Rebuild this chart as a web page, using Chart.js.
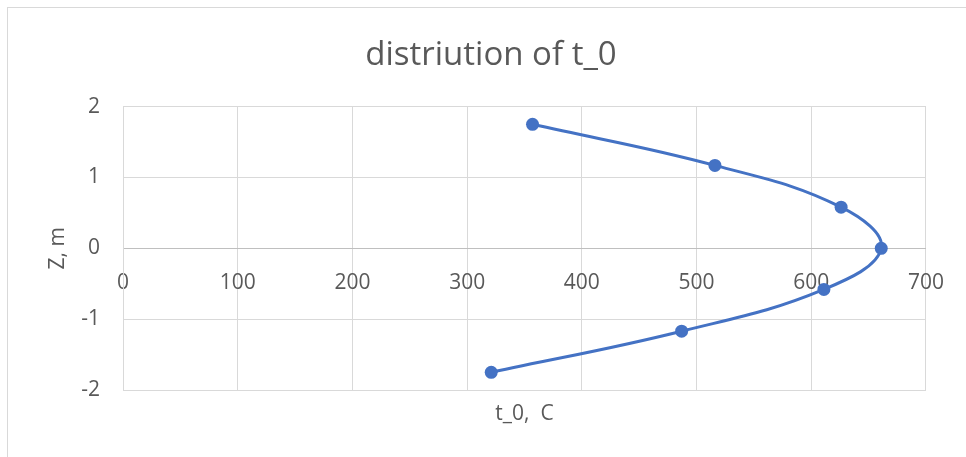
<!DOCTYPE html>
<html>
<head>
<meta charset="utf-8">
<script src="https://cdn.jsdelivr.net/npm/chart.js@4/dist/chart.umd.min.js"></script>
<style>
    html, body { margin: 0; padding: 0; background: #fff; overflow: hidden; }
    #frame {
        position: absolute; left: 7px; top: 7px;
        width: 959px; height: 450px;
        border-left: 1px solid #d9d9d9; border-top: 1px solid #d9d9d9;
    }
    #chart { display: block; }
</style>
</head>
<body>
<div id="frame"><canvas id="chart" width="958" height="449"></canvas></div>
<script>
// values (Excel scatter, smooth line)
const temps = [357, 516, 626, 661, 611, 487, 321];      // t_0, C
const depths = [1.75, 1.17, 0.58, 0, -0.58, -1.17, -1.75]; // Z, m
const xTicks = [0, 100, 200, 300, 400, 500, 600, 700];
const yTicks = [-2, -1, 0, 1, 2];

const TEXT = '#595959';
const GRID = '#d9d9d9';
const FONT = "'Open Sans', sans-serif";

const points = temps.map((t, i) => ({ x: t, y: depths[i] }));

new Chart(document.getElementById('chart'), {
    type: 'scatter',
    data: {
        datasets: [{
            data: points,
            showLine: true,
            borderColor: '#4472C4',
            backgroundColor: '#4472C4',
            borderWidth: 3,
            pointRadius: 6.5,
            pointBorderWidth: 0,
            tension: 0.4
        }]
    },
    options: {
        responsive: false,
        animation: false,
        layout: { padding: { left: 8, right: 0, top: 0, bottom: 0 } },
        plugins: {
            legend: { display: false },
            tooltip: { enabled: false },
            title: {
                display: true,
                text: 'distriution of t_0',
                color: TEXT,
                font: { family: FONT, size: 33, weight: 'normal' },
                padding: { top: 28, bottom: 31 }
            }
        },
        scales: {
            x: {
                type: 'linear',
                position: { y: 0 },
                min: xTicks[0],
                max: xTicks[xTicks.length - 1],
                afterBuildTicks: s => { s.ticks = xTicks.map(v => ({ value: v })); },
                grid: { color: GRID, drawTicks: false },
                border: { color: '#bfbfbf' },
                ticks: { color: TEXT, font: { family: FONT, size: 21 }, padding: 22, maxRotation: 0 }
            },
            x2: {
                type: 'linear',
                position: 'bottom',
                grid: { display: false },
                border: { display: false },
                ticks: { display: false },
                afterFit: s => { s.height = 67; },
                title: {
                    display: true,
                    text: 't_0,  C',
                    color: TEXT,
                    font: { family: FONT, size: 21 },
                    padding: { top: 0, bottom: 30 }
                }
            },
            y: {
                type: 'linear',
                position: 'left',
                min: yTicks[0],
                max: yTicks[yTicks.length - 1],
                afterBuildTicks: s => { s.ticks = yTicks.map(v => ({ value: v })); },
                afterFit: s => { s.width = 107; },
                grid: {
                    drawTicks: false,
                    color: c => (c.tick && c.tick.value === 0 ? '#bfbfbf' : GRID)
                },
                border: { color: GRID },
                ticks: { color: TEXT, font: { family: FONT, size: 21 }, padding: 23 },
                title: {
                    display: true,
                    text: 'Z, m',
                    color: TEXT,
                    font: { family: FONT, size: 21 },
                    padding: { top: 29, bottom: 0 }
                }
            },
            // empty right-hand spacer so the plot ends where the reference's does
            y2: {
                type: 'linear',
                position: 'right',
                grid: { display: false },
                border: { display: false },
                ticks: { display: false },
                afterFit: s => { s.width = 39; }
            }
        }
    }
});
</script>
</body>
</html>
